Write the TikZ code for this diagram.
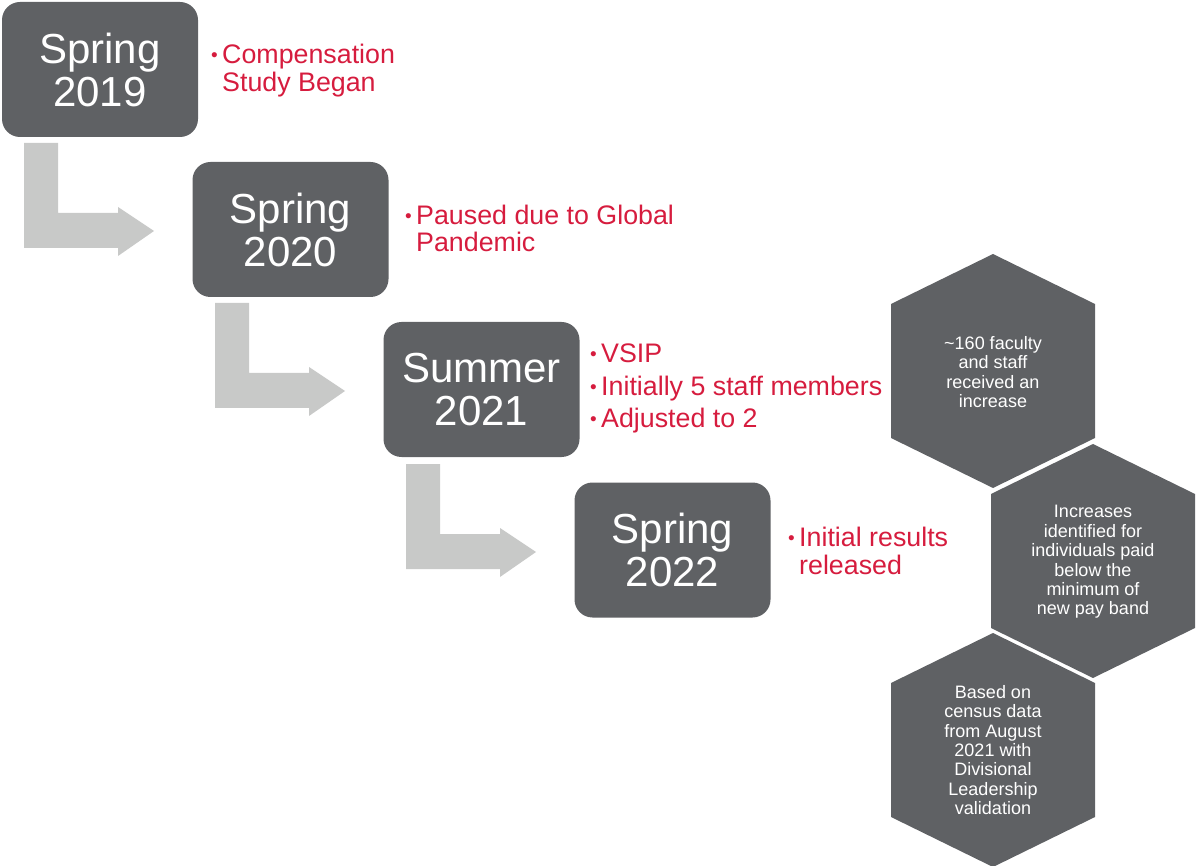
\documentclass[tikz,border=0pt]{standalone}
\usepackage{fontspec}
\setmainfont{Liberation Sans}
\definecolor{boxgray}{RGB}{95,97,100}
\definecolor{arrowgray}{RGB}{200,201,200}
\definecolor{txtred}{RGB}{214,28,62}
\newcommand{\bul}{\makebox[11pt][l]{\raisebox{2pt}{\fontsize{19}{19}\selectfont •}}}
\newcommand{\nobul}{\hspace*{11pt}}
\tikzset{
  x=1pt, y=-1pt,
  yearbox/.style={fill=boxgray, draw=none, rounded corners=18pt, minimum width=196pt, minimum height=135pt,
    text=white, align=center, font=\fontsize{42}{43}\selectfont, inner sep=0pt},
  redtxt/.style={anchor=west, text=txtred, align=left, inner sep=0pt, font=\fontsize{26.8}{27.5}\selectfont},
  hextxt/.style={text=white, align=center, inner sep=0pt, font=\fontsize{18}{19.4}\selectfont},
  pics/larrow/.style={code={
    \fill[arrowgray] (0,0) -- (34,0) -- (34,70) -- (94,70) -- (94,64) -- (130,88) -- (94,113) -- (94,105) -- (0,105) -- cycle;
  }},
  pics/hexa/.style={code={
    \fill[boxgray] (0,-117) -- (102,-67) -- (102,67) -- (0,117) -- (-102,67) -- (-102,-67) -- cycle;
  }},
}
\begin{document}
\begin{tikzpicture}
\useasboundingbox (0,0) rectangle (1197,866);
% year boxes
\node[yearbox] (b1) at (100,69.5) {Spring\\2019};
\node[yearbox] (b2) at (290.5,229.5) {Spring\\2020};
\node[yearbox] (b3) at (481.5,389.5) {Summer\\2021};
\node[yearbox] (b4) at (672.5,550) {Spring\\2022};
% L-shaped arrows
\pic at (24,143) {larrow};
\pic at (215,303) {larrow};
\pic at (406,464) {larrow};
% red texts
\node[redtxt] (t1) at (211,70.5) {\bul Compensation\\\nobul Study Began};
\node[redtxt] (t2) at (405,228.5) {\bul Paused due to Global\\\nobul Pandemic};
\node[redtxt, font=\fontsize{26.8}{32.5}\selectfont] (t3) at (590,388.5) {\bul VSIP\\\bul Initially 5 staff members\\\bul Adjusted to 2};
\node[redtxt] (t4) at (788,551) {\bul Initial results\\\nobul released};
% hexagons
\pic at (993,371) {hexa};
\pic at (1093,561) {hexa};
\pic at (993,750) {hexa};
\node[hextxt] (h1) at (993,372) {\textasciitilde 160 faculty\\and staff\\received an\\increase};
\node[hextxt] (h2) at (1093,562) {Increases\\identified for\\individuals paid\\below the\\minimum of\\new pay band};
\node[hextxt] (h3) at (993,750) {Based on\\census data\\from August\\2021 with\\Divisional\\Leadership\\validation};
\end{tikzpicture}
\end{document}
